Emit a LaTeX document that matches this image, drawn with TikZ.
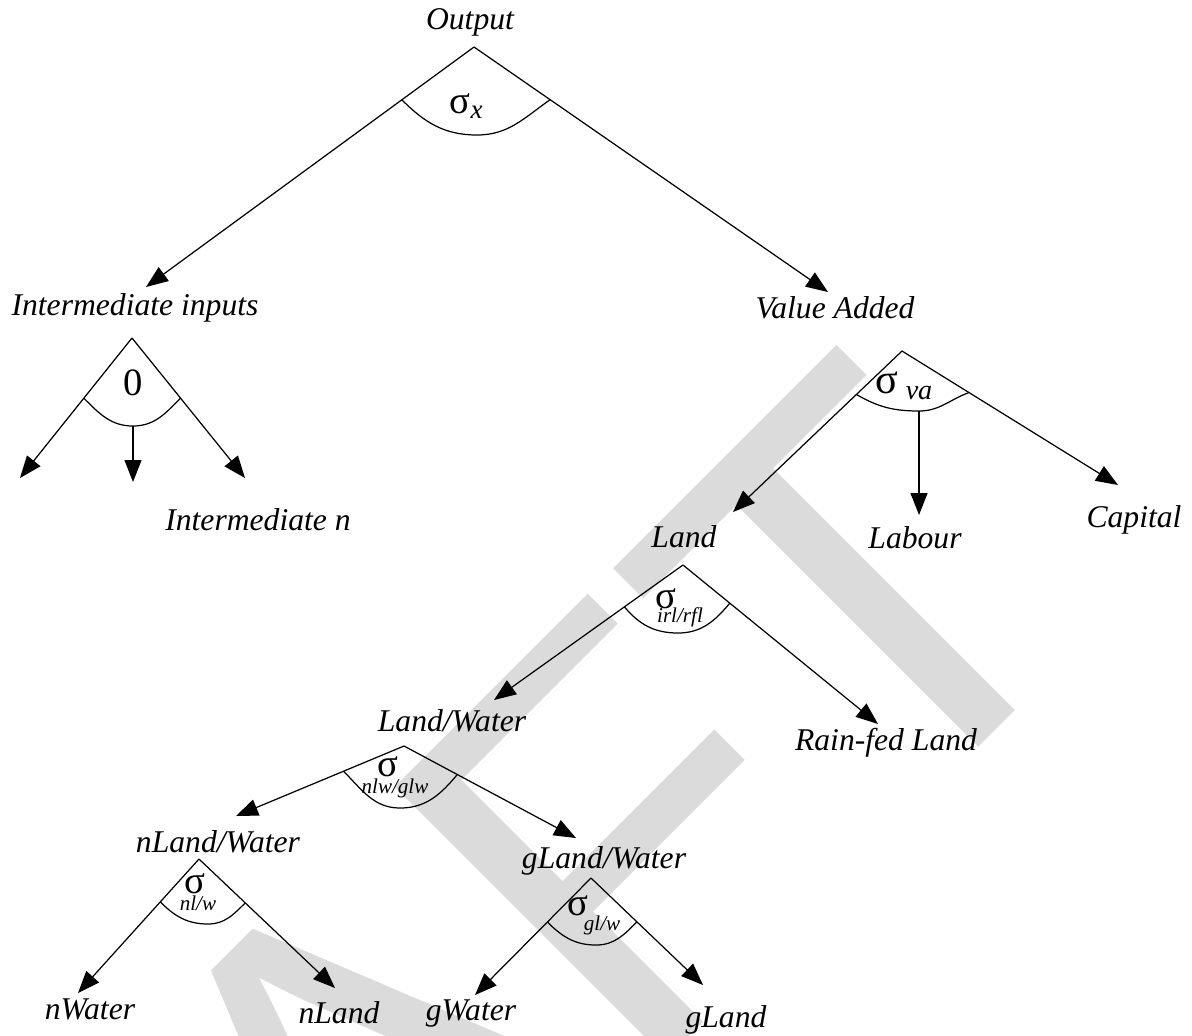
\documentclass[tikz,border=0pt]{standalone}
\usepackage{fontspec}
\setmainfont{Liberation Serif}
\newfontfamily\wmfont{Liberation Sans}
\usetikzlibrary{arrows.meta,calc}
\definecolor{wmgray}{gray}{0.86}
\tikzset{
  lbl/.style={font=\fontsize{9}{11}\selectfont\itshape, inner sep=0pt},
  sig/.style={font=\fontsize{11}{12}\selectfont, inner sep=0pt},
  sbs/.style={font=\fontsize{6}{7}\selectfont\itshape, inner sep=0pt},
  arr/.style={-{Triangle[length=2.2mm,width=1.7mm]}},
}
\begin{document}
\begin{tikzpicture}[x=0.1mm,y=-0.1mm,line width=0.35pt]
\useasboundingbox (0,0) rectangle (1192,1035);
\node[rotate=45,anchor=base east,inner sep=0pt,text=wmgray,font=\wmfont\fontsize{159}{159}\selectfont] (wm) at (1118,608) {DRAFT};

\node[lbl] (out) at (470,22) {Output};
\node[lbl] (inter) at (135,308) {Intermediate inputs};
\node[lbl] (va) at (835,308) {Value Added};
\node[lbl] (intn) at (258,520) {Intermediate n};
\node[lbl] (land) at (684,537) {Land};
\node[lbl] (labour) at (915,538) {Labour};
\node[lbl] (capital) at (1134,520) {Capital};
\node[lbl] (lw) at (452,721) {Land/Water};
\node[lbl] (rain) at (886,743) {Rain-fed Land};
\node[lbl] (nlw) at (218,842) {nLand/Water};
\node[lbl] (glw) at (604,861) {gLand/Water};
\node[lbl] (nwat) at (90,1009) {nWater};
\node[lbl] (nland) at (339,1013) {nLand};
\node[lbl] (gwat) at (471,1013) {gWater};
\node[lbl] (gland) at (726,1020) {gLand};

\coordinate (aO) at (474,47);
\coordinate (aI) at (132,338);
\coordinate (aV) at (902,351);
\coordinate (aL) at (683,565);
\coordinate (aW) at (404,746);
\coordinate (aN) at (199,859);
\coordinate (aG) at (591,878);

\coordinate (tI) at (146,287);
\coordinate (tV) at (828,292);
\coordinate (tI1) at (20,478);
\coordinate (tI2) at (133,482);
\coordinate (tI3) at (245,478);
\coordinate (tL) at (733,512);
\coordinate (tB) at (919,515);
\coordinate (tC) at (1118,485);
\coordinate (tW) at (494,700);
\coordinate (tR) at (878,724);
\coordinate (tN) at (236,816);
\coordinate (tG) at (576,838);
\coordinate (tNW) at (78,993);
\coordinate (tNL) at (335,988);
\coordinate (tGW) at (475,995);
\coordinate (tGL) at (703,985);

\draw[arr] (aO) -- (tI);
\draw[arr] (aO) -- (tV);
\draw ($(aO)!0.22!(tI)$) to[out=-45,in=180] (477,135) to[out=0,in=-145] ($(aO)!0.215!(tV)$);
\node[sig] (sx) at (467,106) {σ\textsubscript{\itshape x}};

\draw[arr] (aI) -- (tI1);
\draw[arr] (aI) -- (tI3);
\draw ($(aI)!0.43!(tI1)$) to[out=-45,in=180] (133,426) coordinate (bI) to[out=0,in=-135] ($(aI)!0.43!(tI3)$);
\draw[arr] (bI) -- (tI2);
\node[sig] (zero) at (133,383) {0};

\draw[arr] (aV) -- (tL);
\draw[arr] (aV) -- (tC);
\draw ($(aV)!0.27!(tL)$) to[out=-30,in=180] (919,411) coordinate (bV) to[out=0,in=-160] ($(aV)!0.31!(tC)$);
\draw[arr] (bV) -- (tB);
\node[sig,font=\fontsize{12}{13}\selectfont] (sva) at (905,386) {σ\,\textsubscript{\itshape va}};

\draw[arr] (aL) -- (tW);
\draw[arr] (aL) -- (tR);
\draw ($(aL)!0.31!(tW)$) to[out=-50,in=180] (678,633) to[out=0,in=-130] ($(aL)!0.24!(tR)$);
\node[sig] (sl) at (666,599) {σ};
\node[sbs] (slb) at (680,617) {irl/rfl};

\draw[arr] (aW) -- (tN);
\draw[arr] (aW) -- (tG);
\draw ($(aW)!0.36!(tN)$) to[out=-45,in=180] (400,808) to[out=0,in=-130] ($(aW)!0.31!(tG)$);
\node[sig] (sw) at (388,767) {σ};
\node[sbs] (swb) at (395,788) {nlw/glw};

\draw[arr] (aN) -- (tNW);
\draw[arr] (aN) -- (tNL);
\draw ($(aN)!0.32!(tNW)$) to[out=-45,in=180] (208,924) to[out=0,in=-135] ($(aN)!0.34!(tNL)$);
\node[sig] (sn) at (195,884) {σ};
\node[sbs] (snb) at (198,903) {nl/w};

\draw[arr] (aG) -- (tGW);
\draw[arr] (aG) -- (tGL);
\draw ($(aG)!0.376!(tGW)$) to[out=-45,in=180] (596,945) to[out=0,in=-135] ($(aG)!0.41!(tGL)$);
\node[sig] (sg) at (578,906) {σ};
\node[sbs] (sgb) at (602,925) {gl/w};
\end{tikzpicture}
\end{document}
